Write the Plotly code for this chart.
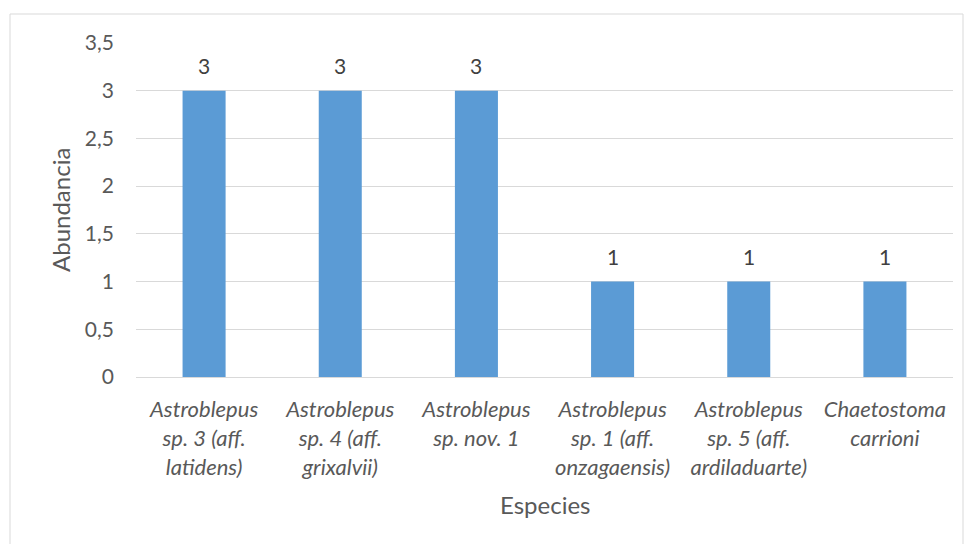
import plotly.graph_objects as go

categories = [
    "Astroblepus<br>sp. 3 (aff.<br>latidens)",
    "Astroblepus<br>sp. 4 (aff.<br>grixalvii)",
    "Astroblepus<br>sp. nov. 1",
    "Astroblepus<br>sp. 1 (aff.<br>onzagaensis)",
    "Astroblepus<br>sp. 5 (aff.<br>ardiladuarte)",
    "Chaetostoma<br>carrioni",
]
abundance = [3, 3, 3, 1, 1, 1]
y_ticks = [0, 0.5, 1, 1.5, 2, 2.5, 3, 3.5]
x_title = "Especies"
y_title = "Abundancia"

W, H = 968, 544
L, R, T, B = 136, 15, 43, 167
FONT = "Lato"
GREY = "#595959"

fig = go.Figure()
fig.add_trace(go.Bar(
    x=categories, y=abundance,
    marker=dict(color="#5b9bd5", line=dict(width=0)),
    hoverinfo="x+y",
))

# data labels above the bars, placed by the data scales
for c, v in zip(categories, abundance):
    fig.add_annotation(
        x=c, y=v, xref="x", yref="y", text=str(v), showarrow=False,
        yanchor="bottom", yshift=11,
        font=dict(family=FONT, size=21, color="#404040"),
    )

def px_x(p):
    return (p - L) / (W - L - R)

def px_y(p):
    return 1 - (p - T) / (H - T - B)

fig.add_annotation(
    text=x_title, xref="paper", yref="paper", x=0.5, y=px_y(505),
    xanchor="center", yanchor="middle", showarrow=False,
    font=dict(family=FONT, size=24, color=GREY),
)
fig.add_annotation(
    text=y_title, xref="paper", yref="paper", x=px_x(60), y=0.5, textangle=-90,
    xanchor="center", yanchor="middle", showarrow=False,
    font=dict(family=FONT, size=24, color=GREY),
)

fig.update_layout(
    width=W, height=H,
    margin=dict(l=L, r=R, t=T, b=B),
    paper_bgcolor="white", plot_bgcolor="white",
    separators=",.",
    bargap=0.684,
    showlegend=False,
    font=dict(family=FONT, color=GREY),
    xaxis=dict(
        tickfont=dict(family=FONT, size=22, color=GREY, style="italic"),
        showgrid=False, showline=True, linecolor="#d9d9d9", linewidth=1,
        ticks="", ticklabelstandoff=13,
    ),
    yaxis=dict(
        range=[0, 3.5], tickvals=y_ticks,
        tickfont=dict(family=FONT, size=21, color=GREY),
        showgrid=True, gridcolor="#d9d9d9", gridwidth=1,
        zeroline=False, showline=False, ticks="", ticklabelstandoff=21,
    ),
    shapes=[dict(
        type="rect", xref="paper", yref="paper",
        x0=px_x(10), x1=px_x(963), y0=px_y(560), y1=px_y(14),
        line=dict(color="#d9d9d9", width=1), fillcolor="rgba(0,0,0,0)", layer="below",
    )],
)

fig.write_html(
    "out.html",
    config={"displayModeBar": False},
    post_script="document.body.style.margin='0';document.body.style.overflow='hidden';",
)
